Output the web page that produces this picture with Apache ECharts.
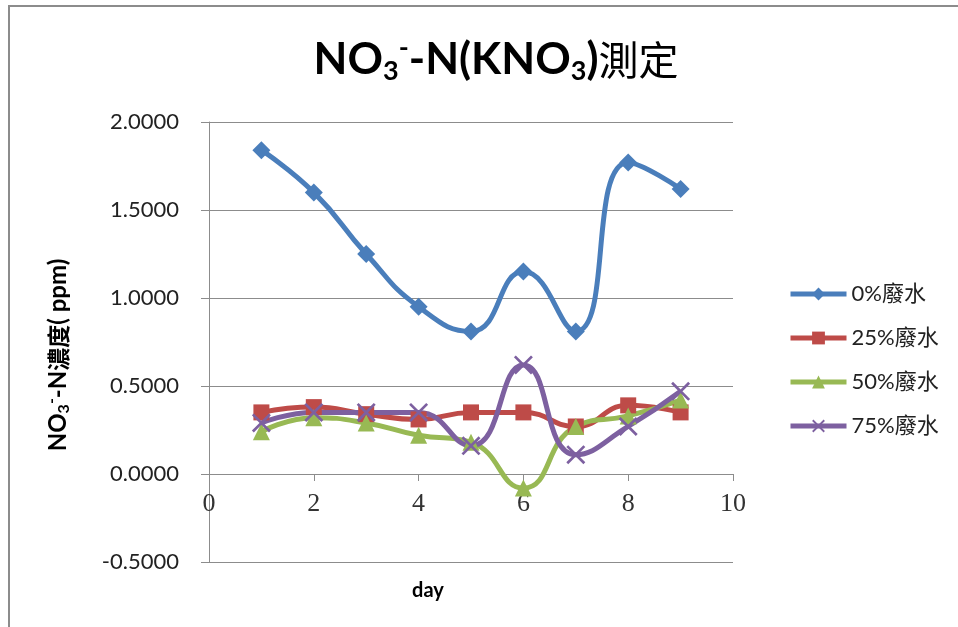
<!DOCTYPE html>
<html>
<head>
<meta charset="utf-8">
<script src="https://cdn.jsdelivr.net/npm/echarts@6/dist/echarts.min.js"></script>
<style>
  html, body { margin: 0; padding: 0; background: #fff; }
  #chart { width: 958px; height: 627px; }
</style>
</head>
<body>
<div id="chart"></div>
<script>
// Sampling days and measured NO3--N concentrations (ppm)
var days = [1, 2, 3, 4, 5, 6, 7, 8, 9];
var seriesNames = ['0%廢水', '25%廢水', '50%廢水', '75%廢水'];
var water0 = [1.84, 1.60, 1.25, 0.95, 0.81, 1.15, 0.81, 1.77, 1.62];
var water25 = [0.35, 0.38, 0.34, 0.31, 0.35, 0.35, 0.27, 0.39, 0.35];
var water50 = [0.24, 0.32, 0.29, 0.22, 0.18, -0.08, 0.27, 0.33, 0.42];
var water75 = [0.29, 0.35, 0.35, 0.35, 0.16, 0.62, 0.11, 0.27, 0.47];

var colors = ['#4A7EBB', '#BE4B48', '#98B954', '#7D60A0'];
var symbols = [
  'diamond',
  'rect',
  'triangle',
  'path://M0,1L1,0L10,9L9,10ZM9,0L10,1L1,10L0,9Z'
];
var symbolSizes = [18, 16, 17, 19];

function pairs(vals) {
  return days.map(function (d, i) { return [d, vals[i]]; });
}

var allValues = [water0, water25, water50, water75];
var latin = 'Lato, "Noto Sans CJK TC", sans-serif';

// Plot box and value range; the day axis is lifted to sit on y = 0
var gridTop = 122, gridBottom = 65, chartH = 627;
var yMin = -0.5, yMax = 2.0;
var plotH = chartH - gridTop - gridBottom;
var zeroLift = plotH * (0 - yMin) / (yMax - yMin);

var chart = echarts.init(document.getElementById('chart'));
chart.setOption({
  animation: false,
  backgroundColor: '#ffffff',
  graphic: [
    { type: 'line', shape: { x1: 8, y1: 6, x2: 958, y2: 6 }, style: { stroke: '#8c8c8c', lineWidth: 2 } },
    { type: 'line', shape: { x1: 9, y1: 6, x2: 9, y2: 627 }, style: { stroke: '#8c8c8c', lineWidth: 2 } },
    // axis title below the plot
    { type: 'text', x: 428, y: 591, style: { text: 'day', textAlign: 'center', textVerticalAlign: 'middle', fontFamily: latin, fontWeight: 'bold', fontSize: 20, fill: '#000' } }
  ],
  title: {
    text: '{b|NO}{sub|3}{sup|-}{b|-N(KNO}{sub|3}{b|)}{c|測定}',
    left: 491,
    top: 30,
    textAlign: 'center',
    textStyle: {
      rich: {
        b: { fontFamily: latin, fontWeight: 'bold', fontSize: 44, lineHeight: 50, color: '#000' },
        c: { fontFamily: '"Noto Sans CJK TC", sans-serif', fontWeight: 'normal', fontSize: 40, lineHeight: 50, color: '#000' },
        sub: { fontFamily: latin, fontWeight: 'bold', fontSize: 27, lineHeight: 6, verticalAlign: 'bottom', color: '#000' },
        sup: { fontFamily: latin, fontWeight: 'bold', fontSize: 27, lineHeight: 26, verticalAlign: 'top', color: '#000' }
      }
    }
  },
  legend: {
    orient: 'vertical',
    left: 783,
    top: 278,
    itemWidth: 56,
    itemHeight: 16,
    itemGap: 22,
    data: seriesNames,
    lineStyle: { width: 5 },
    textStyle: { fontFamily: latin, fontSize: 22, color: '#222' }
  },
  grid: { left: 209, right: 225, top: gridTop, bottom: gridBottom },
  xAxis: {
    type: 'value',
    min: 0,
    max: 10,
    interval: 2,
    offset: -zeroLift,
    axisLine: { show: true, onZero: false, lineStyle: { color: '#8c8c8c', width: 1 } },
    axisTick: { show: true, length: 7, lineStyle: { color: '#8c8c8c' } },
    axisLabel: { margin: 17, fontFamily: '"Liberation Serif", serif', fontSize: 26, color: '#333' },
    splitLine: { show: false }
  },
  yAxis: {
    type: 'value',
    min: yMin,
    max: yMax,
    interval: 0.5,
    name: '{b|NO}{sub|3}{sup|-}{b|-N}{c|濃度}{b|( ppm)}',
    nameLocation: 'middle',
    nameRotate: 90,
    nameGap: 137,
    nameTextStyle: {
      padding: [0, 26, 0, 0],
      rich: {
        b: { fontFamily: latin, fontWeight: 'bold', fontSize: 24, lineHeight: 28, color: '#000' },
        c: { fontFamily: '"Noto Sans CJK TC", sans-serif', fontWeight: 'bold', fontSize: 23, lineHeight: 28, color: '#000' },
        sub: { fontFamily: latin, fontWeight: 'bold', fontSize: 16, lineHeight: 6, verticalAlign: 'bottom', color: '#000' },
        sup: { fontFamily: latin, fontWeight: 'bold', fontSize: 16, lineHeight: 15, verticalAlign: 'top', color: '#000' }
      }
    },
    axisLine: { show: true, onZero: false, lineStyle: { color: '#8c8c8c', width: 1 } },
    axisTick: { show: true, length: 8, lineStyle: { color: '#8c8c8c' } },
    axisLabel: {
      margin: 30,
      fontFamily: latin,
      fontSize: 22,
      color: '#222',
      formatter: function (v) { return v.toFixed(4); }
    },
    splitLine: { show: true, lineStyle: { color: '#8c8c8c', width: 1 } }
  },
  series: seriesNames.map(function (name, i) {
    return {
      name: name,
      type: 'line',
      smooth: true,
      data: pairs(allValues[i]),
      symbol: symbols[i],
      symbolSize: symbolSizes[i],
      showSymbol: true,
      lineStyle: { color: colors[i], width: 5 },
      itemStyle: { color: colors[i] }
    };
  })
});
</script>
</body>
</html>
